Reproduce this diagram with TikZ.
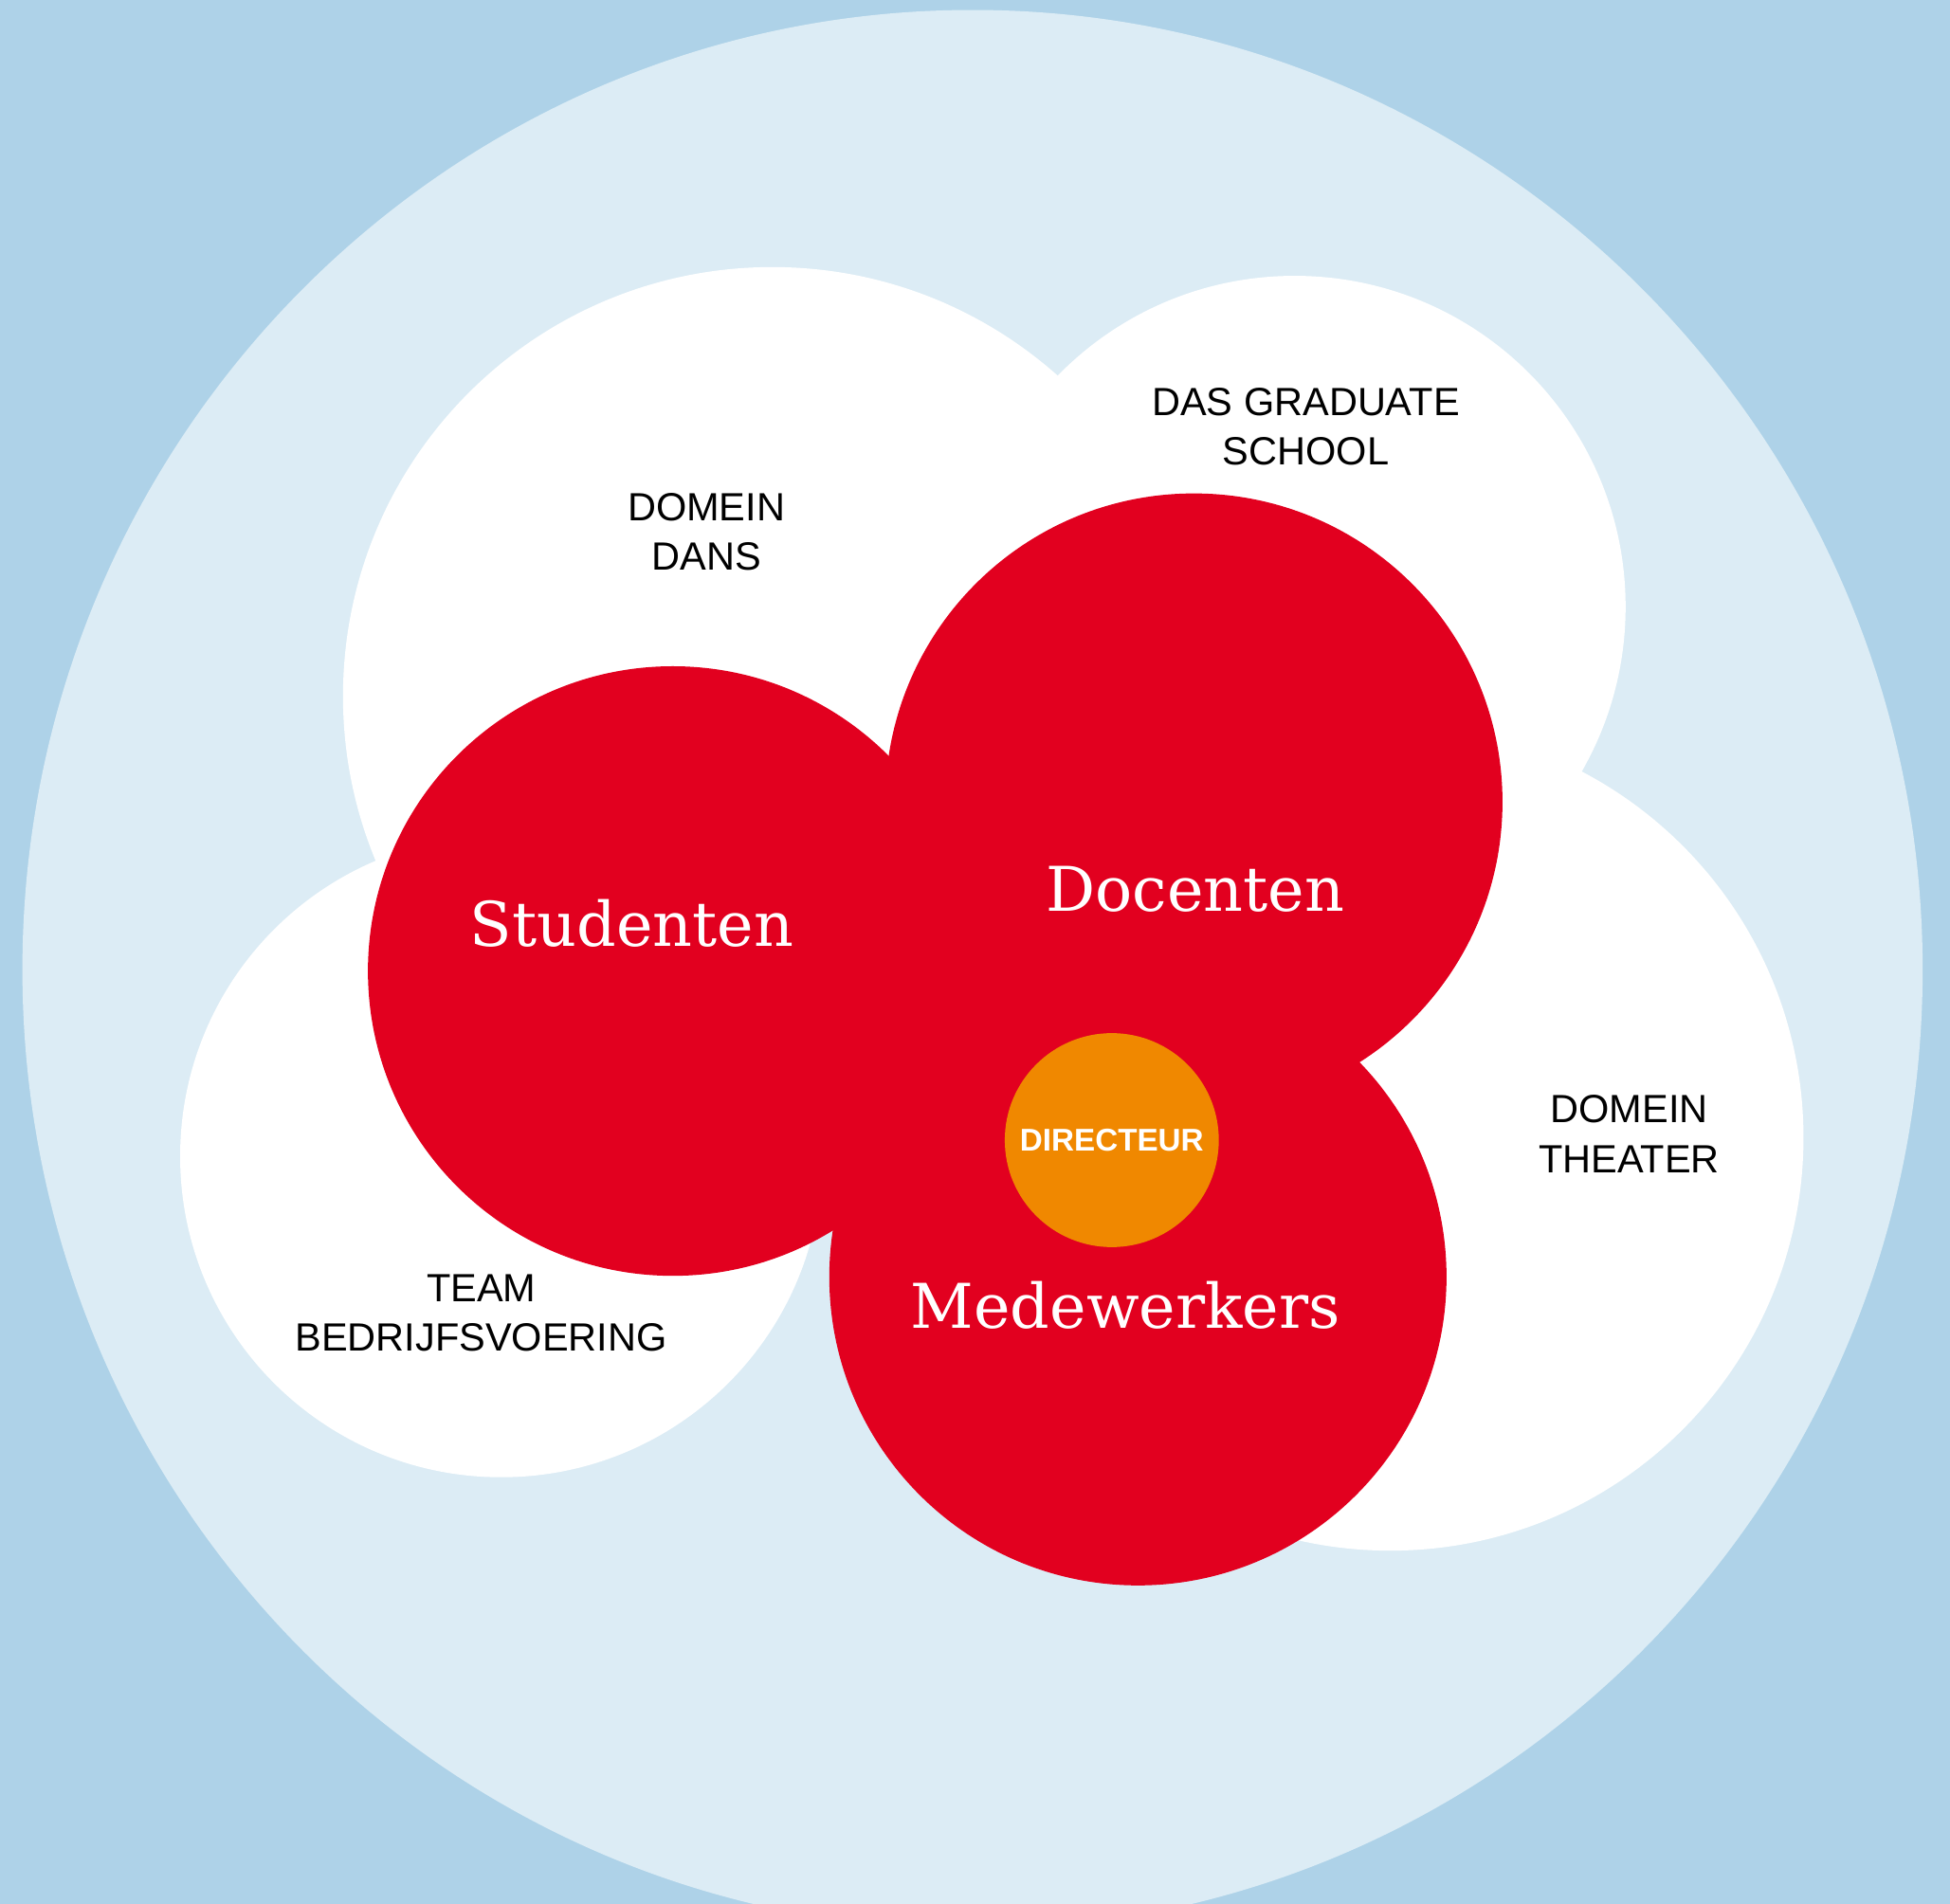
\documentclass[tikz,border=0pt]{standalone}
\usepackage{fontspec}
\setmainfont{Liberation Sans}
\newfontfamily\slabfont{DejaVu Serif}
\usetikzlibrary{positioning}

\definecolor{skyblue}{HTML}{AED2E8}
\definecolor{paleblue}{HTML}{DCECF5}
\definecolor{kunstred}{HTML}{E2001F}
\definecolor{headorange}{HTML}{F08800}

\tikzset{
    domaincircle/.style={circle, fill=white, inner sep=0pt},
    groupcircle/.style={circle, fill=kunstred, inner sep=0pt},
    headcircle/.style={circle, fill=headorange, inner sep=0pt},
    domainlabel/.style={align=center, inner sep=0pt, font=\fontsize{9}{11.3}\selectfont},
    grouplabel/.style={anchor=base, inner sep=0pt, text=white, font=\slabfont\fontsize{14.1}{16}\selectfont},
}

\begin{document}
\begin{tikzpicture}[x=0.01cm, y=-0.01cm]

    \fill[skyblue] (0,0) rectangle (1568,1531.4);
    \useasboundingbox (0,0) rectangle (1568,1531.4);
    \fill[paleblue] (782,780) ellipse [x radius=764, y radius=772];

    % white domains
    \node[domaincircle, minimum size=6.9cm] (dans) at (621,560) {};
    \node[domaincircle, minimum size=5.32cm] (graduate) at (1041,488) {};
    \node[domaincircle, minimum size=6.64cm] (theater) at (1118,915) {};
    \node[domaincircle, minimum size=5.16cm] (bedrijf) at (403,930) {};

    % red groups
    \node[groupcircle, minimum size=4.9cm] (studenten) at (541,781) {};
    \node[groupcircle, minimum size=4.96cm] (docenten) at (960,645) {};
    \node[groupcircle, minimum size=4.96cm] (medewerkers) at (915,1027) {};

    \node[headcircle, minimum size=1.72cm] (directeur) at (894,917) {};
    \node[inner sep=0pt, text=white, font=\bfseries\fontsize{7.2}{8}\selectfont] (directeur_text) at (directeur) {DIRECTEUR};

    \node[domainlabel] (dans_text) at (568,428) {DOMEIN\\DANS};
    \node[domainlabel] (graduate_text) at (1050,343) {DAS GRADUATE\\SCHOOL};
    \node[domainlabel] (theater_text) at (1310,912) {DOMEIN\\THEATER};
    \node[domainlabel] (bedrijf_text) at (387,1056) {TEAM\\BEDRIJFSVOERING};

    \node[grouplabel] (studenten_text) at (508,761) {Studenten};
    \node[grouplabel] (docenten_text) at (961,733) {Docenten};
    \node[grouplabel] (medewerkers_text) at (905,1068) {Medewerkers};

\end{tikzpicture}
\end{document}
